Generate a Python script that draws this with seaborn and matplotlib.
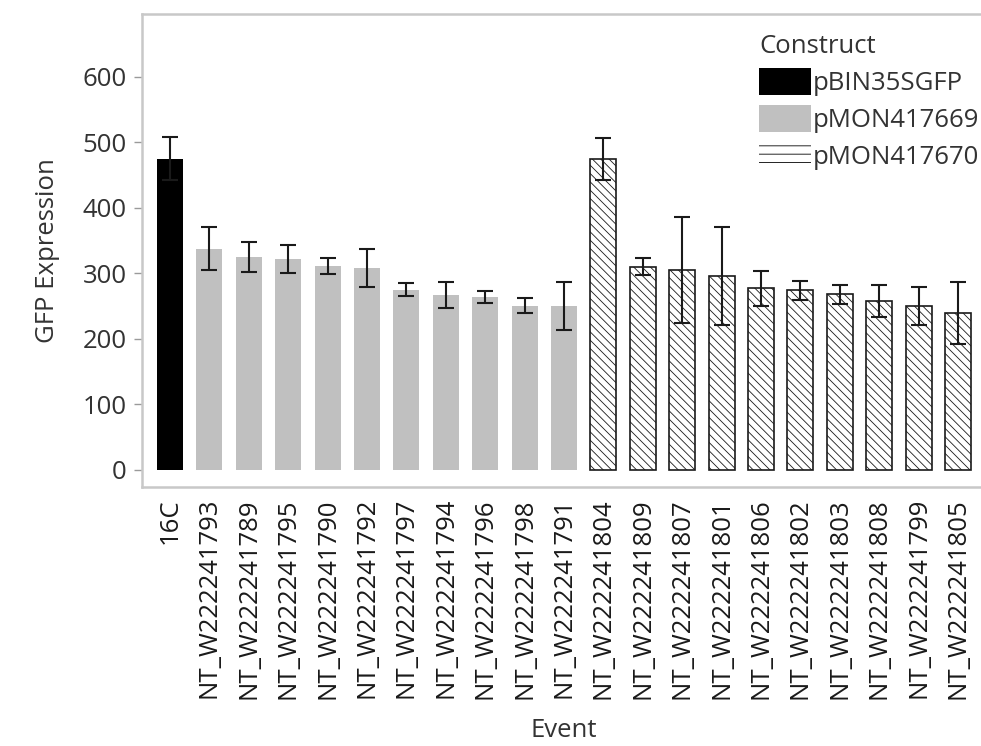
import matplotlib
matplotlib.use("Agg")
import matplotlib.pyplot as plt
from matplotlib.patches import Patch
import pandas as pd
import seaborn as sns

events = ["16C",
          "NT_W222241793", "NT_W222241789", "NT_W222241795", "NT_W222241790",
          "NT_W222241792", "NT_W222241797", "NT_W222241794", "NT_W222241796",
          "NT_W222241798", "NT_W222241791",
          "NT_W222241804", "NT_W222241809", "NT_W222241807", "NT_W222241801",
          "NT_W222241806", "NT_W222241802", "NT_W222241803", "NT_W222241808",
          "NT_W222241799", "NT_W222241805"]
constructs = ["pBIN35SGFP"] + ["pMON417669"] * 10 + ["pMON417670"] * 10
gfp_mean = [475,
            338, 325, 322, 311, 308, 275, 267, 264, 251, 250,
            474, 310, 305, 296, 277, 274, 268, 258, 250, 240]
gfp_err = [33,
           33, 23, 22, 12, 29, 10, 20, 9, 11, 37,
           32, 13, 81, 75, 27, 14, 15, 24, 29, 47]
construct_order = ["pBIN35SGFP", "pMON417669", "pMON417670"]
construct_colors = ["#000000", "#c0c0c0", "#ffffff"]

df = pd.DataFrame({"Event": events, "Construct": constructs,
                   "GFP": gfp_mean, "SE": gfp_err})

sns.set_style("white")
plt.rcParams["font.family"] = ["Open Sans", "DejaVu Sans"]
plt.rcParams["hatch.linewidth"] = 0.6

FS = 18.5

fig = plt.figure(figsize=(9.81, 7.46), dpi=100)
ax = fig.add_axes([142 / 981, 1 - 487 / 746, (986 - 142) / 981, (487 - 14) / 746])

sns.barplot(data=df, x="Event", y="GFP", hue="Construct", order=events,
            hue_order=construct_order, palette=construct_colors,
            dodge=False, width=0.66, errorbar=None, saturation=1,
            legend=False, ax=ax)

for patch in ax.containers[0]:
    patch.set_linewidth(0)
for patch in ax.containers[1]:
    patch.set_linewidth(0)
for patch in ax.containers[2]:
    patch.set_hatch("\\\\\\\\")
    patch.set_edgecolor("#1a1a1a")
    patch.set_linewidth(1.2)

ax.errorbar(x=range(len(events)), y=df["GFP"], yerr=df["SE"], fmt="none",
            ecolor="#1a1a1a", elinewidth=1.5, capsize=6, capthick=1.5, zorder=5)

ax.set_xlim(-0.71, len(events) - 1 + 0.71)
ax.set_ylim(-26, 696)
ax.set_yticks([0, 100, 200, 300, 400, 500, 600])

for side in ["left", "bottom", "top"]:
    ax.spines[side].set_color("#c8c8c8")
    ax.spines[side].set_linewidth(1.8)
ax.spines["right"].set_visible(False)

ax.tick_params(axis="y", length=6, width=1, color="#9a9a9a", pad=5,
               labelsize=FS, labelcolor="#333333", left=True)
ax.tick_params(axis="x", length=0, pad=8, labelsize=FS, labelcolor="#1a1a1a",
               rotation=90)

ax.set_xlabel("Event", fontsize=FS, color="#333333", labelpad=14)
ax.set_ylabel("GFP Expression", fontsize=FS, color="#333333", labelpad=16)

handles = [Patch(facecolor="#000000", linewidth=0),
           Patch(facecolor="#c0c0c0", linewidth=0),
           Patch(facecolor="#ffffff", edgecolor="#000000", linewidth=0, hatch="--")]
leg = ax.legend(handles, construct_order, title="Construct", loc="upper left",
                bbox_to_anchor=(0.71, 0.995), frameon=False, fontsize=FS,
                title_fontsize=FS, handlelength=2.0, handleheight=1.2,
                handletextpad=0.1, labelspacing=0.35, borderpad=0.2)
leg._legend_box.align = "left"
for t in leg.get_texts():
    t.set_color("#333333")
leg.get_title().set_color("#333333")

fig.savefig("out.png", dpi=100)
